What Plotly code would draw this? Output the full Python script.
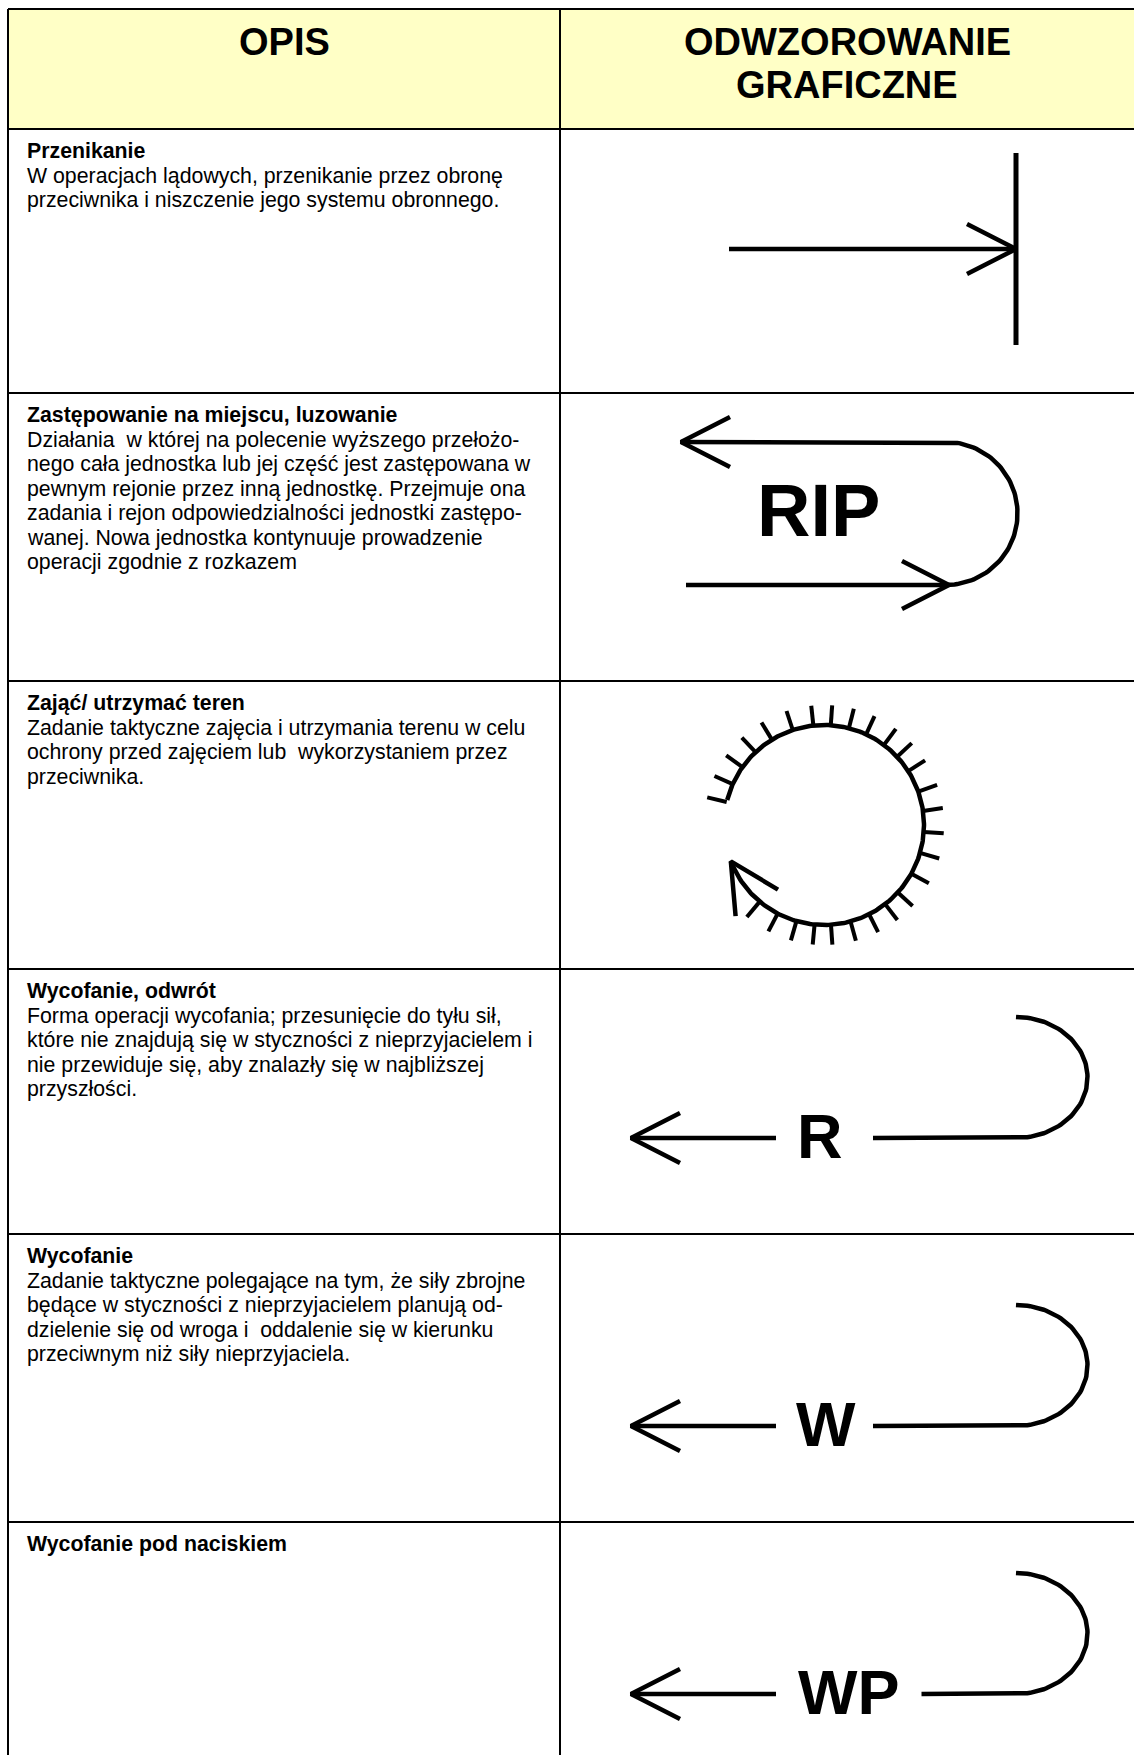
import numpy as np
import plotly.graph_objects as go

W, H = 1134, 1755

# ---- table layout (pixels) ----
col_x = [8, 560, 1140]
row_y = [9, 129, 393, 681, 969, 1234, 1522, 1762]
header_fill = "#FFFFC6"

header_left = ["OPIS"]
header_right = ["ODWZOROWANIE", "GRAFICZNE"]

titles = [
    "Przenikanie",
    "Zastępowanie na miejscu, luzowanie",
    "Zająć/ utrzymać teren",
    "Wycofanie, odwrót",
    "Wycofanie",
    "Wycofanie pod naciskiem",
]
bodies = [
    ["W operacjach lądowych, przenikanie przez obronę",
     "przeciwnika i niszczenie jego systemu obronnego."],
    ["Działania  w której na polecenie wyższego przełożo-",
     "nego cała jednostka lub jej część jest zastępowana w",
     "pewnym rejonie przez inną jednostkę. Przejmuje ona",
     "zadania i rejon odpowiedzialności jednostki zastępo-",
     "wanej. Nowa jednostka kontynuuje prowadzenie",
     "operacji zgodnie z rozkazem"],
    ["Zadanie taktyczne zajęcia i utrzymania terenu w celu",
     "ochrony przed zajęciem lub  wykorzystaniem przez",
     "przeciwnika."],
    ["Forma operacji wycofania; przesunięcie do tyłu sił,",
     "które nie znajdują się w styczności z nieprzyjacielem i",
     "nie przewiduje się, aby znalazły się w najbliższej",
     "przyszłości."],
    ["Zadanie taktyczne polegające na tym, że siły zbrojne",
     "będące w styczności z nieprzyjacielem planują od-",
     "dzielenie się od wroga i  oddalenie się w kierunku",
     "przeciwnym niż siły nieprzyjaciela."],
    [],
]

# ---- symbol geometry (pixels) ----
# row 1: penetrate
pen_shaft_x = [729, 1016]
pen_y = 249
pen_bar_y = [153, 345]
# row 2: RIP
rip_top_y, rip_bot_y = 442, 585
rip_top_x0, rip_bot_x0 = 681, 686
rip_arc_cx, rip_arc_r = 946, 71.5
rip_label = "RIP"
rip_label_xy = (818, 510)
# row 3: occupy / retain
occ_c = (824, 825)
occ_r = 100
occ_arc_deg = [-165.5, 158.7]
occ_tick_deg = [-166.7, -155.9, -144.6, -133.2, -121.4, -108.2, -96.1, -86.1,
                -75.6, -65.1, -53.2, -43.0, -32.6, -19.5, -8.1, 4.0, 16.2,
                29.1, 42.4, 52.3, 63.2, 74.6, 86.0, 95.4, 106.0, 117.6, 130.0]
occ_tick_len = 20
occ_arrow_dir = -122
# rows 4-6: withdrawal family
wd_labels = ["R", "W", "WP"]
wd_label_x = [820, 826, 848]
wd_line_y = [1138, 1426, 1694]
wd_tip_x = 631
wd_left_end = 776
wd_right_start = [873, 873, 921.5]
wd_arc_x = 1016
wd_arc_rx, wd_arc_ry = 71.5, 60.5

arrow_back, arrow_half = 49, 25
LW = 4.5
FONT = "Liberation Sans, Arial, sans-serif"

fig = go.Figure()


def add_path(xs, ys, width=LW):
    fig.add_trace(go.Scatter(x=xs, y=ys, mode="lines",
                             line=dict(color="black", width=width),
                             hoverinfo="skip", showlegend=False))


def arrowhead(tx, ty, deg, back=arrow_back, half=arrow_half):
    a = np.deg2rad(deg)
    ux, uy = np.cos(a), np.sin(a)
    px, py = -uy, ux
    bx, by = tx - back * ux, ty - back * uy
    return ([bx + half * px, tx, bx - half * px],
            [by + half * py, ty, by - half * py])


# header background
fig.add_shape(type="rect", xref="x", yref="y", x0=col_x[0], x1=col_x[2],
              y0=row_y[0], y1=row_y[1], fillcolor=header_fill,
              line=dict(width=0), layer="below")
# grid
for y in row_y[:-1]:
    fig.add_shape(type="line", xref="x", yref="y", x0=col_x[0], x1=col_x[2],
                  y0=y, y1=y, line=dict(color="black", width=2))
for x in col_x[:2]:
    fig.add_shape(type="line", xref="x", yref="y", x0=x, x1=x,
                  y0=row_y[0], y1=row_y[-1], line=dict(color="black", width=2))

# header texts
hdr_font = dict(family=FONT, size=38, color="black")
fig.add_annotation(x=(col_x[0] + col_x[1]) / 2, y=42, text="<b>%s</b>" % header_left[0],
                   showarrow=False, xanchor="center", yanchor="middle", font=hdr_font)
for i, t in enumerate(header_right):
    fig.add_annotation(x=(col_x[1] + W) / 2, y=42 + 43 * i, text="<b>%s</b>" % t,
                       showarrow=False, xanchor="center", yanchor="middle", font=hdr_font)

# description texts
body_font = dict(family=FONT, size=21.3, color="black")
for r, (t, lines) in enumerate(zip(titles, bodies)):
    top = row_y[r + 1]
    ty = top + 22
    fig.add_annotation(x=25, y=ty, text="<b>%s</b>" % t, showarrow=False,
                       xanchor="left", yanchor="middle", font=body_font)
    for i, ln in enumerate(lines):
        fig.add_annotation(x=25, y=ty + 24.5 * (i + 1), text=ln, showarrow=False,
                           xanchor="left", yanchor="middle", font=body_font)

# ---- row 1 symbol ----
add_path(pen_shaft_x, [pen_y, pen_y])
add_path([pen_shaft_x[1], pen_shaft_x[1]], pen_bar_y, width=5)
ax, ay = arrowhead(pen_shaft_x[1], pen_y, 0)
add_path(ax, ay)

# ---- row 2 symbol ----
t = np.linspace(-np.pi / 2, np.pi / 2, 80)
cy = (rip_top_y + rip_bot_y) / 2
ry = (rip_bot_y - rip_top_y) / 2
xs = [rip_top_x0] + list(rip_arc_cx + rip_arc_r * np.cos(t)) + [rip_bot_x0]
ys = [rip_top_y] + list(cy + ry * np.sin(t)) + [rip_bot_y]
add_path(xs, ys)
ax, ay = arrowhead(rip_top_x0, rip_top_y, 180)
add_path(ax, ay)
ax, ay = arrowhead(rip_arc_cx + 3, rip_bot_y, 0, back=47, half=24)
add_path(ax, ay)
fig.add_annotation(x=rip_label_xy[0], y=rip_label_xy[1], text="<b>%s</b>" % rip_label,
                   showarrow=False, xanchor="center", yanchor="middle",
                   font=dict(family=FONT, size=74, color="black"))

# ---- row 3 symbol ----
cx, cyc = occ_c
t = np.deg2rad(np.linspace(occ_arc_deg[0], occ_arc_deg[1], 300))
add_path(list(cx + occ_r * np.cos(t)), list(cyc + occ_r * np.sin(t)))
tx, ty = [], []
for d in occ_tick_deg:
    a = np.deg2rad(d)
    tx += [cx + occ_r * np.cos(a), cx + (occ_r + occ_tick_len) * np.cos(a), None]
    ty += [cyc + occ_r * np.sin(a), cyc + (occ_r + occ_tick_len) * np.sin(a), None]
add_path(tx, ty, width=4)
a_end = np.deg2rad(occ_arc_deg[1])
ax, ay = arrowhead(cx + occ_r * np.cos(a_end), cyc + occ_r * np.sin(a_end), occ_arrow_dir)
add_path(ax, ay)

# ---- rows 4-6 symbols ----
t = np.linspace(np.pi / 2, -np.pi / 2, 80)
for lab, lx, ly, rs in zip(wd_labels, wd_label_x, wd_line_y, wd_right_start):
    add_path([wd_tip_x, wd_left_end], [ly, ly])
    ax, ay = arrowhead(wd_tip_x, ly, 180)
    add_path(ax, ay)
    ecy = ly - wd_arc_ry
    xs = [rs] + list(wd_arc_x + wd_arc_rx * np.cos(t))
    ys = [ly] + list(ecy + wd_arc_ry * np.sin(t))
    add_path(xs, ys)
    fig.add_annotation(x=lx, y=ly - 2, text="<b>%s</b>" % lab,
                       showarrow=False, xanchor="center", yanchor="middle",
                       font=dict(family=FONT, size=63, color="black"))

fig.update_layout(
    width=W, height=H, autosize=False,
    margin=dict(l=0, r=0, t=0, b=0),
    paper_bgcolor="white", plot_bgcolor="white",
    xaxis=dict(range=[0, W], visible=False, fixedrange=True),
    yaxis=dict(range=[H, 0], visible=False, fixedrange=True),
    showlegend=False,
)

fig.write_html("out.html", config={"displayModeBar": False, "staticPlot": True},
               post_script="document.body.style.margin='0';")
